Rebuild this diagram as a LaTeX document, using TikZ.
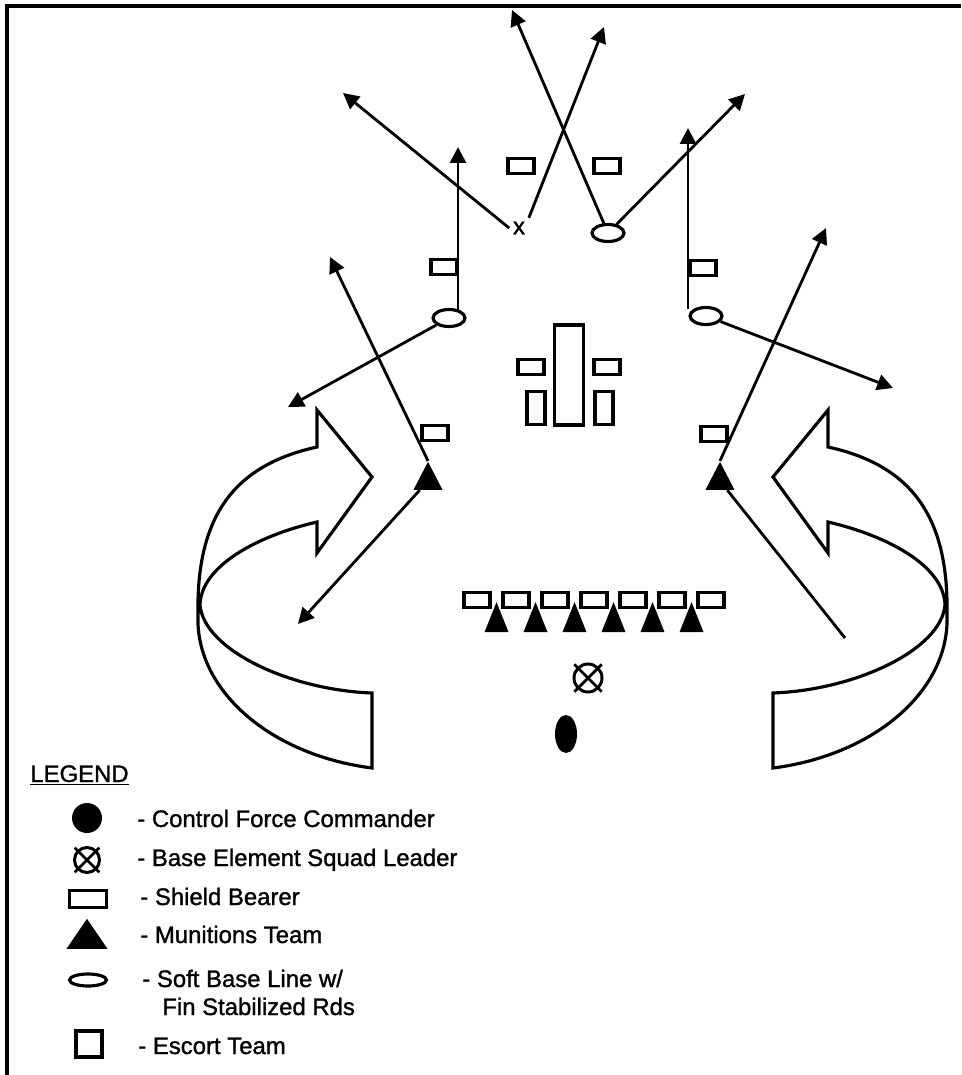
\documentclass[tikz,border=0pt]{standalone}
\usepackage{fontspec}
\setmainfont{Liberation Sans}[FakeBold=1.2]
\usetikzlibrary{arrows.meta,shapes.geometric,calc}
\begin{document}
\begin{tikzpicture}[x=0.02cm, y=-0.02cm,
    every node/.style={font=\fontsize{13.6}{16}\selectfont},
    shield/.style={rectangle, draw, line width=1.9pt, minimum width=0.52cm, minimum height=0.30cm, inner sep=0pt},
    softbase/.style={ellipse, draw, line width=1.8pt, minimum width=0.64cm, minimum height=0.34cm, inner sep=0pt},
    munition/.style={isosceles triangle, isosceles triangle stretches, rotate=90, fill, inner sep=0pt, minimum width=0.58cm, minimum height=0.56cm},
    rowmun/.style={munition, minimum width=0.48cm, minimum height=0.6cm},
    sqldr/.style={circle, draw, line width=1.7pt, minimum size=0.56cm, inner sep=0pt},
    arr/.style={-{Triangle[length=9pt,width=9pt]}, line width=1.6pt},
    ln/.style={line width=1.6pt},
    ribbon/.style={line width=1.8pt, line join=miter},
    lgd/.style={anchor=base west, inner sep=0pt}
]
\useasboundingbox (0,0) rectangle (961,1075);
\draw[line width=2pt] (7,1075) -- (7,6) -- (961,6);

\node[softbase] (lsb) at (449,318) {};
\node[softbase] (tsb) at (608,233) {};
\node[softbase] (rsb) at (706,316) {};
\node[inner sep=2pt] (xm) at (519,228) {x};

\node[shield] (ts1) at (521,166) {};
\node[shield] (ts2) at (607,166) {};
\node[shield] (ls1) at (444,267) {};
\node[shield] (rs1) at (703,268) {};
\node[shield] (ls2) at (435,433) {};
\node[shield] (rs2) at (714,434) {};

\node[shield, minimum width=0.58cm, minimum height=2.0cm] (cmd) at (569,375) {};
\node[shield] (c1) at (531,367) {};
\node[shield] (c2) at (607,367) {};
\node[shield, minimum width=0.36cm, minimum height=0.66cm] (c3) at (536,408) {};
\node[shield, minimum width=0.36cm, minimum height=0.66cm] (c4) at (604,408) {};

\foreach \i in {0,...,6}
    \node[shield] (b\i) at (477+39*\i, 600) {};
\foreach \i in {0,...,5}
    \node[rowmun] (m\i) at (496.5+39*\i, 624) {};

\node[sqldr] (sql) at (588,678) {};
\draw[ln] ($(sql.center)!1.25!(sql.north east)$) -- ($(sql.center)!1.25!(sql.south west)$);
\draw[ln] ($(sql.center)!1.25!(sql.north west)$) -- ($(sql.center)!1.25!(sql.south east)$);
\node[ellipse, fill, minimum width=0.44cm, minimum height=0.76cm, inner sep=0pt] (cfc) at (566,734) {};

\node[munition] (lm) at (428,481) {};
\node[munition] (rm) at (720,481) {};

\coordinate (t1) at (343,93);
\coordinate (t2) at (604,27);
\coordinate (t3) at (512,10);
\coordinate (t4) at (745,94);
\coordinate (t5) at (458,147);
\coordinate (t6) at (288,407);
\coordinate (t7) at (688,128);
\coordinate (t8) at (893,388);
\coordinate (t9) at (330,257);
\coordinate (t10) at (298,624);
\coordinate (t11) at (826,228);
\coordinate (t12) at (845,638);

\draw[arr] (xm.west) -- (t1);
\draw[arr] (xm.north east) -- (t2);
\draw[arr] (tsb) -- (t3);
\draw[arr] (tsb) -- (t4);
\draw[arr] (t5 |- lsb.north east) -- (t5);
\draw[arr] (lsb) -- (t6);
\draw[arr] (t7 |- rsb.north west) -- (t7);
\draw[arr] (rsb) -- (t8);
\draw[arr] (lm.apex) -- (t9);
\draw[arr] (lm) -- (t10);
\draw[arr] (rm.apex) -- (t11);
\draw[ln] (rm) -- (t12);

\draw[ribbon] (372,693) -- (372,768) .. controls (270,755) and (195,690) .. (198,615)
    .. controls (196,515) and (235,465) .. (317,447) -- (317,410) -- (372,477) -- (317,553)
    -- (317,522) .. controls (260,535) and (201,565) .. (200,605)
    .. controls (204,650) and (290,690) .. (372,693) -- cycle;
\draw[ribbon] (773,693) -- (773,768) .. controls (875,755) and (950,690) .. (947,615)
    .. controls (949,515) and (910,465) .. (828,447) -- (828,410) -- (773,477) -- (828,553)
    -- (828,522) .. controls (885,535) and (944,565) .. (945,605)
    .. controls (941,650) and (855,690) .. (773,693) -- cycle;

\node[lgd] (lhd) at (30,782) {\underline{LEGEND}};
\node[circle, fill, minimum size=0.6cm, inner sep=0pt] (k1) at (87,818) {};
\node[lgd] (l1) at (137,827) {- Control Force Commander};
\node[sqldr, minimum size=0.5cm] (k2) at (87,860) {};
\draw[ln] ($(k2.center)!1.25!(k2.north east)$) -- ($(k2.center)!1.25!(k2.south west)$);
\draw[ln] ($(k2.center)!1.25!(k2.north west)$) -- ($(k2.center)!1.25!(k2.south east)$);
\node[lgd] (l2) at (137,866) {- Base Element Squad Leader};
\node[shield, minimum width=0.74cm, minimum height=0.34cm] (k3) at (88,899) {};
\node[lgd] (l3) at (140,905) {- Shield Bearer};
\node[munition, minimum width=0.82cm, minimum height=0.6cm] (k4) at (87,938) {};
\node[lgd] (l4) at (140,943) {- Munitions Team};
\node[softbase, minimum width=0.74cm, minimum height=0.24cm] (k5) at (88,980) {};
\node[lgd] (l5) at (142,987) {- Soft Base Line w/};
\node[lgd] (l6) at (162,1015) {Fin Stabilized Rds};
\node[shield, minimum width=0.52cm, minimum height=0.52cm] (k6) at (89,1044) {};
\node[lgd] (l7) at (138,1054) {- Escort Team};
\end{tikzpicture}
\end{document}
